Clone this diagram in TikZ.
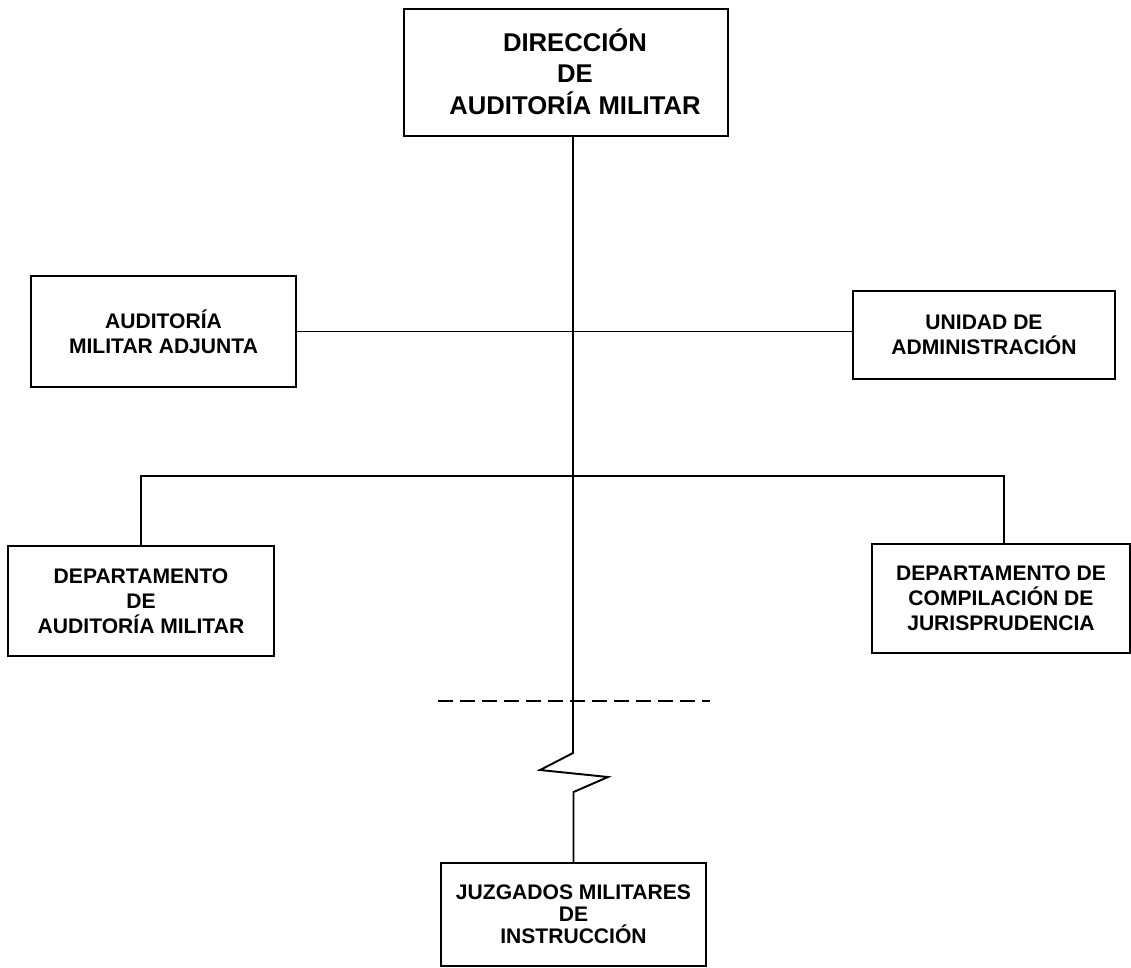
\documentclass[tikz,border=0pt]{standalone}
\usepackage{fontspec}
\setmainfont{Liberation Sans}
\usetikzlibrary{positioning}

\begin{document}
\begin{tikzpicture}[x=0.02cm, y=-0.02cm]
	\tikzstyle{Box} = [rectangle, inner sep=0pt, text centered, align=center, draw=black, line width=1.2pt, font=\bfseries\fontsize{12}{14.2}\selectfont]
	\tikzstyle{link} = [line width=1.1pt, black]
	
	\useasboundingbox (0,0) rectangle (1131,967);
	
	\node (top) [Box, minimum width=6.48cm, minimum height=2.54cm, font=\bfseries\fontsize{14.6}{17.9}\selectfont] at (566,72.5) {\hspace*{0.36cm}\begin{tabular}{@{}c@{}}\rule{0pt}{17.1pt}DIRECCIÓN\\DE\\AUDITORÍA MILITAR\end{tabular}};
	\node (adj) [Box, minimum width=5.3cm, minimum height=2.22cm] at (163.5,331.5) {AUDITORÍA\\MILITAR ADJUNTA};
	\node (uni) [Box, minimum width=5.24cm, minimum height=1.76cm] at (984,335) {UNIDAD DE\\ADMINISTRACIÓN};
	\node (depa) [Box, minimum width=5.32cm, minimum height=2.2cm] at (141,601) {DEPARTAMENTO\\DE\\AUDITORÍA MILITAR};
	\node (depc) [Box, minimum width=5.16cm, minimum height=2.18cm] at (1001,598.5) {DEPARTAMENTO DE\\COMPILACIÓN DE\\JURISPRUDENCIA};
	\node (juz) [Box, minimum width=5.3cm, minimum height=2.06cm, font=\bfseries\fontsize{12}{12.4}\selectfont] at (573.5,914.5) {JUZGADOS MILITARES\\DE\\INSTRUCCIÓN};
	
	% break in the line
	\coordinate (z1) at (573,753);
	\coordinate (z2) at (540,770);
	\coordinate (z3) at (608,777);
	\coordinate (z4) at (573.5,792);
	\coordinate (bus) at (141,476);
	
	\draw [link] (top.south -| z1) -- (z1) -- (z2) -- (z3) -- (z4) -- (juz.north);
	\draw [link] (adj.east) -- (adj.east -| uni.west);
	\draw [link] (depa.north) -- (depa.north |- bus) -- (1004,476) -- (1004,544);
	\draw [link, dash pattern=on 0.3cm off 0.14cm] (438,701) -- (710,701);
\end{tikzpicture}
\end{document}
